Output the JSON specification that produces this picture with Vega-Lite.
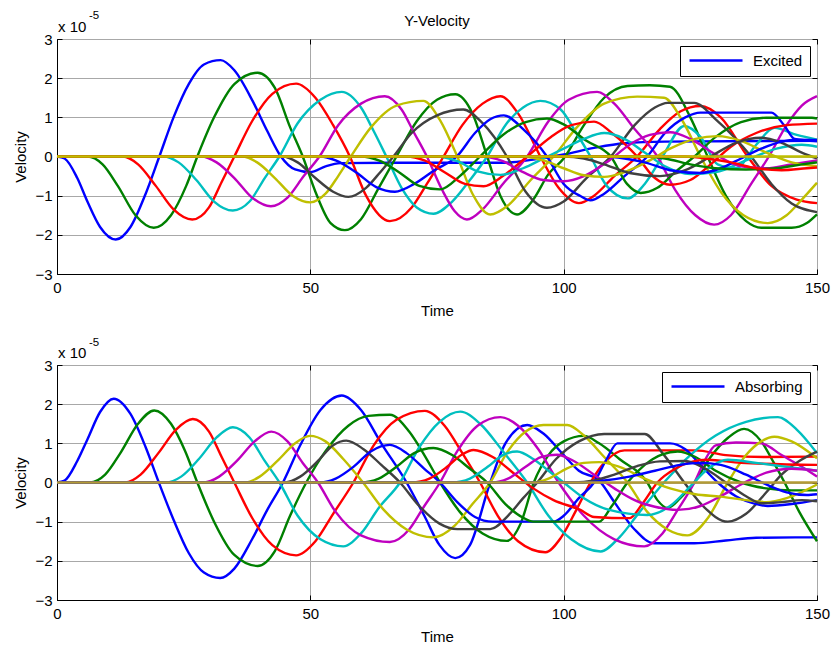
{
"$schema": "https://vega.github.io/schema/vega-lite/v6.json",
"background": "white",
"padding": {"left": 13, "top": 9, "right": 10, "bottom": 5},
"spacing": 17,
"config": {
  "font": "Liberation Sans",
  "view": {"stroke": "black", "strokeWidth": 1},
  "axis": {"domainColor": "black", "tickColor": "black", "tickSize": -5, "gridColor": "#a8a8a8", "gridWidth": 1, "labelFont": "Liberation Sans", "labelFontSize": 15, "labelColor": "black", "labelOverlap": false, "labelFlush": false, "titleFont": "Liberation Sans", "titleFontSize": 15, "titleFontWeight": "normal", "titleColor": "black"},
  "axisX": {"titlePadding": 8, "labelPadding": 11},
  "axisY": {"titlePadding": 6, "labelPadding": 10},
  "legend": {"orient": "top-right", "offset": 7, "padding": 7, "strokeColor": "black", "fillColor": "white", "symbolType": "M-1,0H9.6", "symbolSize": 100, "symbolStrokeWidth": 2.6, "labelFont": "Liberation Sans", "labelFontSize": 15, "labelColor": "black", "labelOffset": 51, "cornerRadius": 0},
  "title": {"font": "Liberation Sans", "fontSize": 15, "fontWeight": "normal", "color": "black", "offset": -19}
},
"resolve": {"scale": {"color": "independent"}},
"datasets": {
"top": [
{"s":"Excited","t":0,"v":0},{"s":"Excited","t":1.5,"v":-0.05},{"s":"Excited","t":4,"v":-0.55},{"s":"Excited","t":6,"v":-1.15},{"s":"Excited","t":8.5,"v":-1.8},{"s":"Excited","t":11.6,"v":-2.12},{"s":"Excited","t":14.5,"v":-1.8},{"s":"Excited","t":17.5,"v":-0.95},{"s":"Excited","t":20.2,"v":0},{"s":"Excited","t":23,"v":1.0},{"s":"Excited","t":26,"v":1.85},{"s":"Excited","t":29,"v":2.35},{"s":"Excited","t":32.3,"v":2.46},{"s":"Excited","t":35,"v":2.2},{"s":"Excited","t":38.6,"v":1.42},{"s":"Excited","t":41.5,"v":0.65},{"s":"Excited","t":44.2,"v":0},{"s":"Excited","t":47,"v":-0.33},{"s":"Excited","t":50,"v":-0.4},{"s":"Excited","t":53,"v":-0.25},{"s":"Excited","t":56,"v":-0.17},{"s":"Excited","t":70,"v":-0.16},{"s":"Excited","t":88,"v":-0.16},{"s":"Excited","t":94,"v":-0.08},{"s":"Excited","t":100,"v":0.05},{"s":"Excited","t":106,"v":0.22},{"s":"Excited","t":112,"v":0.34},{"s":"Excited","t":120,"v":0.38},{"s":"Excited","t":150,"v":0.4},
{"s":"g1","t":0,"v":0},{"s":"g1","t":6,"v":0},{"s":"g1","t":9,"v":-0.2},{"s":"g1","t":12,"v":-0.75},{"s":"g1","t":15.5,"v":-1.5},{"s":"g1","t":19.1,"v":-1.82},{"s":"g1","t":22.5,"v":-1.5},{"s":"g1","t":25.5,"v":-0.75},{"s":"g1","t":27.7,"v":0},{"s":"g1","t":31,"v":1.0},{"s":"g1","t":35,"v":1.85},{"s":"g1","t":39.6,"v":2.14},{"s":"g1","t":43,"v":1.75},{"s":"g1","t":46,"v":0.75},{"s":"g1","t":48.5,"v":0},{"s":"g1","t":51,"v":-0.9},{"s":"g1","t":54,"v":-1.7},{"s":"g1","t":56.8,"v":-1.88},{"s":"g1","t":60,"v":-1.6},{"s":"g1","t":63.5,"v":-0.8},{"s":"g1","t":67,"v":0},{"s":"g1","t":71,"v":0.9},{"s":"g1","t":75,"v":1.45},{"s":"g1","t":78.6,"v":1.59},{"s":"g1","t":82,"v":1.1},{"s":"g1","t":84.9,"v":0},{"s":"g1","t":87.5,"v":-1.0},{"s":"g1","t":90.8,"v":-1.48},{"s":"g1","t":94,"v":-1.1},{"s":"g1","t":97,"v":-0.45},{"s":"g1","t":100,"v":-0.05},{"s":"g1","t":104,"v":0.8},{"s":"g1","t":108,"v":1.5},{"s":"g1","t":112.6,"v":1.8},{"s":"g1","t":117,"v":1.82},{"s":"g1","t":121,"v":1.78},{"s":"g1","t":125,"v":1.0},{"s":"g1","t":128.4,"v":0},{"s":"g1","t":132,"v":-1.0},{"s":"g1","t":136,"v":-1.65},{"s":"g1","t":139,"v":-1.82},{"s":"g1","t":145,"v":-1.82},{"s":"g1","t":148,"v":-1.7},{"s":"g1","t":150,"v":-1.48},
{"s":"r1","t":0,"v":0},{"s":"r1","t":13,"v":0},{"s":"r1","t":16,"v":-0.2},{"s":"r1","t":19.5,"v":-0.75},{"s":"r1","t":23,"v":-1.35},{"s":"r1","t":26.7,"v":-1.61},{"s":"r1","t":30,"v":-1.3},{"s":"r1","t":32.5,"v":-0.65},{"s":"r1","t":35,"v":0},{"s":"r1","t":38.5,"v":0.9},{"s":"r1","t":42.5,"v":1.6},{"s":"r1","t":47.2,"v":1.86},{"s":"r1","t":51,"v":1.5},{"s":"r1","t":54.5,"v":0.8},{"s":"r1","t":57.8,"v":0},{"s":"r1","t":61,"v":-1.0},{"s":"r1","t":65.7,"v":-1.65},{"s":"r1","t":70,"v":-1.3},{"s":"r1","t":73,"v":-0.7},{"s":"r1","t":76.3,"v":0},{"s":"r1","t":80,"v":0.8},{"s":"r1","t":84,"v":1.35},{"s":"r1","t":87.5,"v":1.54},{"s":"r1","t":91,"v":1.1},{"s":"r1","t":95.4,"v":0},{"s":"r1","t":99,"v":-0.8},{"s":"r1","t":103,"v":-1.19},{"s":"r1","t":106,"v":-1.0},{"s":"r1","t":110,"v":-0.5},{"s":"r1","t":114.5,"v":0},{"s":"r1","t":119,"v":0.7},{"s":"r1","t":123,"v":1.15},{"s":"r1","t":127,"v":1.29},{"s":"r1","t":131,"v":1.0},{"s":"r1","t":136.3,"v":0},{"s":"r1","t":141,"v":-0.75},{"s":"r1","t":146,"v":-1.1},{"s":"r1","t":150,"v":-1.19},
{"s":"c1","t":0,"v":0},{"s":"c1","t":21,"v":0},{"s":"c1","t":24,"v":-0.15},{"s":"c1","t":27.5,"v":-0.6},{"s":"c1","t":31,"v":-1.15},{"s":"c1","t":34.7,"v":-1.38},{"s":"c1","t":38,"v":-1.15},{"s":"c1","t":41,"v":-0.55},{"s":"c1","t":43.9,"v":0},{"s":"c1","t":47.5,"v":0.85},{"s":"c1","t":52,"v":1.45},{"s":"c1","t":56.2,"v":1.65},{"s":"c1","t":60,"v":1.25},{"s":"c1","t":62.5,"v":0.65},{"s":"c1","t":65,"v":0},{"s":"c1","t":68,"v":-0.8},{"s":"c1","t":71,"v":-1.3},{"s":"c1","t":74.3,"v":-1.46},{"s":"c1","t":78,"v":-1.15},{"s":"c1","t":81.5,"v":-0.6},{"s":"c1","t":84.9,"v":0},{"s":"c1","t":88.5,"v":0.8},{"s":"c1","t":92,"v":1.25},{"s":"c1","t":95.4,"v":1.42},{"s":"c1","t":99.4,"v":1.2},{"s":"c1","t":102.5,"v":0.6},{"s":"c1","t":105.3,"v":0},{"s":"c1","t":108.5,"v":-0.75},{"s":"c1","t":112.6,"v":-1.07},{"s":"c1","t":116,"v":-0.7},{"s":"c1","t":119.5,"v":0},{"s":"c1","t":123.8,"v":0.78},{"s":"c1","t":127,"v":0.5},{"s":"c1","t":130.4,"v":-0.2},{"s":"c1","t":134,"v":-0.3},{"s":"c1","t":138,"v":0.3},{"s":"c1","t":141.6,"v":0.73},{"s":"c1","t":146,"v":0.55},{"s":"c1","t":150,"v":0.43},
{"s":"m1","t":0,"v":0},{"s":"m1","t":28.5,"v":0},{"s":"m1","t":31.5,"v":-0.15},{"s":"m1","t":35,"v":-0.55},{"s":"m1","t":38.5,"v":-1.05},{"s":"m1","t":42.2,"v":-1.27},{"s":"m1","t":45.5,"v":-1.05},{"s":"m1","t":48.7,"v":-0.5},{"s":"m1","t":51.8,"v":0},{"s":"m1","t":55.5,"v":0.8},{"s":"m1","t":60,"v":1.35},{"s":"m1","t":64.7,"v":1.54},{"s":"m1","t":68,"v":1.2},{"s":"m1","t":70.5,"v":0.6},{"s":"m1","t":73,"v":0},{"s":"m1","t":76,"v":-0.85},{"s":"m1","t":78.5,"v":-1.4},{"s":"m1","t":80.9,"v":-1.61},{"s":"m1","t":84,"v":-1.35},{"s":"m1","t":88,"v":-0.7},{"s":"m1","t":92.8,"v":0},{"s":"m1","t":97,"v":0.9},{"s":"m1","t":101,"v":1.45},{"s":"m1","t":106.6,"v":1.65},{"s":"m1","t":110,"v":1.35},{"s":"m1","t":114,"v":0.7},{"s":"m1","t":118.5,"v":0},{"s":"m1","t":122,"v":-0.85},{"s":"m1","t":126,"v":-1.5},{"s":"m1","t":129.7,"v":-1.74},{"s":"m1","t":133,"v":-1.5},{"s":"m1","t":137,"v":-0.7},{"s":"m1","t":140.5,"v":0},{"s":"m1","t":144,"v":0.8},{"s":"m1","t":147,"v":1.3},{"s":"m1","t":150,"v":1.54},
{"s":"y1","t":0,"v":0},{"s":"y1","t":36.5,"v":0},{"s":"y1","t":39.5,"v":-0.15},{"s":"y1","t":43,"v":-0.55},{"s":"y1","t":46.5,"v":-1.0},{"s":"y1","t":50,"v":-1.17},{"s":"y1","t":53,"v":-0.95},{"s":"y1","t":55.5,"v":-0.5},{"s":"y1","t":58,"v":0},{"s":"y1","t":62,"v":0.75},{"s":"y1","t":67,"v":1.3},{"s":"y1","t":72.3,"v":1.42},{"s":"y1","t":75.5,"v":0.95},{"s":"y1","t":79,"v":0},{"s":"y1","t":82,"v":-0.95},{"s":"y1","t":85.5,"v":-1.48},{"s":"y1","t":89,"v":-1.25},{"s":"y1","t":93.5,"v":-0.6},{"s":"y1","t":98,"v":0},{"s":"y1","t":103,"v":0.8},{"s":"y1","t":108,"v":1.35},{"s":"y1","t":114.5,"v":1.53},{"s":"y1","t":119.8,"v":1.5},{"s":"y1","t":123.5,"v":0.9},{"s":"y1","t":127,"v":0},{"s":"y1","t":131,"v":-0.9},{"s":"y1","t":135.5,"v":-1.5},{"s":"y1","t":140.3,"v":-1.7},{"s":"y1","t":144,"v":-1.5},{"s":"y1","t":147,"v":-1.1},{"s":"y1","t":150,"v":-0.67},
{"s":"k1","t":0,"v":0},{"s":"k1","t":44.5,"v":0},{"s":"k1","t":47.5,"v":-0.15},{"s":"k1","t":51,"v":-0.55},{"s":"k1","t":54.5,"v":-0.9},{"s":"k1","t":57.5,"v":-1.03},{"s":"k1","t":61,"v":-0.8},{"s":"k1","t":63.8,"v":-0.4},{"s":"k1","t":66.4,"v":0},{"s":"k1","t":70,"v":0.6},{"s":"k1","t":75,"v":1.05},{"s":"k1","t":80.2,"v":1.2},{"s":"k1","t":84,"v":0.85},{"s":"k1","t":88.8,"v":0},{"s":"k1","t":92.5,"v":-0.9},{"s":"k1","t":96.7,"v":-1.31},{"s":"k1","t":100,"v":-1.15},{"s":"k1","t":104.5,"v":-0.55},{"s":"k1","t":109.3,"v":0},{"s":"k1","t":114,"v":0.8},{"s":"k1","t":118,"v":1.25},{"s":"k1","t":120.5,"v":1.37},{"s":"k1","t":125.8,"v":1.37},{"s":"k1","t":130,"v":0.95},{"s":"k1","t":137,"v":0},{"s":"k1","t":141,"v":-0.7},{"s":"k1","t":145,"v":-1.2},{"s":"k1","t":150,"v":-1.42},
{"s":"b2","t":0,"v":0},{"s":"b2","t":52,"v":0},{"s":"b2","t":55,"v":-0.1},{"s":"b2","t":59,"v":-0.4},{"s":"b2","t":63,"v":-0.78},{"s":"b2","t":66.7,"v":-0.9},{"s":"b2","t":70.5,"v":-0.7},{"s":"b2","t":74.5,"v":-0.35},{"s":"b2","t":78.9,"v":0},{"s":"b2","t":82.5,"v":0.6},{"s":"b2","t":85.5,"v":0.95},{"s":"b2","t":88.2,"v":1.05},{"s":"b2","t":92,"v":0.7},{"s":"b2","t":96.7,"v":0},{"s":"b2","t":100,"v":-0.7},{"s":"b2","t":103.3,"v":-1.01},{"s":"b2","t":105.3,"v":-1.12},{"s":"b2","t":108,"v":-0.95},{"s":"b2","t":112,"v":-0.5},{"s":"b2","t":116.5,"v":0},{"s":"b2","t":120,"v":0.6},{"s":"b2","t":124,"v":1.0},{"s":"b2","t":127,"v":1.12},{"s":"b2","t":141,"v":1.12},{"s":"b2","t":143.5,"v":0.8},{"s":"b2","t":145.6,"v":0.45},{"s":"b2","t":150,"v":0.39},
{"s":"g2","t":0,"v":0},{"s":"g2","t":60,"v":0},{"s":"g2","t":63.5,"v":-0.1},{"s":"g2","t":67.5,"v":-0.4},{"s":"g2","t":71.5,"v":-0.75},{"s":"g2","t":75.6,"v":-0.84},{"s":"g2","t":79.5,"v":-0.5},{"s":"g2","t":83.5,"v":0},{"s":"g2","t":88,"v":0.55},{"s":"g2","t":92.5,"v":0.88},{"s":"g2","t":96.7,"v":0.97},{"s":"g2","t":100,"v":0.82},{"s":"g2","t":104.5,"v":0.4},{"s":"g2","t":109.3,"v":0},{"s":"g2","t":112.5,"v":-0.7},{"s":"g2","t":115.2,"v":-0.93},{"s":"g2","t":118.5,"v":-0.8},{"s":"g2","t":122,"v":-0.4},{"s":"g2","t":125.8,"v":0},{"s":"g2","t":130,"v":0.5},{"s":"g2","t":135,"v":0.88},{"s":"g2","t":140,"v":0.99},{"s":"g2","t":149,"v":0.99},{"s":"g2","t":150,"v":0.97},
{"s":"r2","t":0,"v":0},{"s":"r2","t":69,"v":0},{"s":"r2","t":72.5,"v":-0.1},{"s":"r2","t":76.5,"v":-0.4},{"s":"r2","t":80.5,"v":-0.7},{"s":"r2","t":84.2,"v":-0.76},{"s":"r2","t":88,"v":-0.5},{"s":"r2","t":92.8,"v":0},{"s":"r2","t":97.5,"v":0.5},{"s":"r2","t":101.5,"v":0.8},{"s":"r2","t":106,"v":0.89},{"s":"r2","t":109.5,"v":0.6},{"s":"r2","t":114.5,"v":0},{"s":"r2","t":118,"v":-0.55},{"s":"r2","t":121,"v":-0.72},{"s":"r2","t":125,"v":-0.6},{"s":"r2","t":129,"v":-0.2},{"s":"r2","t":133,"v":0.25},{"s":"r2","t":138,"v":0.6},{"s":"r2","t":144,"v":0.8},{"s":"r2","t":150,"v":0.84},
{"s":"c2","t":0,"v":0},{"s":"c2","t":75,"v":0},{"s":"c2","t":79,"v":-0.12},{"s":"c2","t":83,"v":-0.38},{"s":"c2","t":87.5,"v":-0.47},{"s":"c2","t":92,"v":-0.3},{"s":"c2","t":96,"v":-0.05},{"s":"c2","t":100,"v":0.2},{"s":"c2","t":104,"v":0.45},{"s":"c2","t":108,"v":0.6},{"s":"c2","t":112,"v":0.45},{"s":"c2","t":116,"v":0.1},{"s":"c2","t":120,"v":-0.25},{"s":"c2","t":125,"v":-0.45},{"s":"c2","t":130,"v":-0.4},{"s":"c2","t":136,"v":-0.1},{"s":"c2","t":142,"v":0.2},{"s":"c2","t":147,"v":0.3},{"s":"c2","t":150,"v":0.25},
{"s":"m2","t":0,"v":0},{"s":"m2","t":84,"v":0},{"s":"m2","t":88,"v":-0.12},{"s":"m2","t":92,"v":-0.4},{"s":"m2","t":96,"v":-0.6},{"s":"m2","t":100,"v":-0.63},{"s":"m2","t":104,"v":-0.5},{"s":"m2","t":109,"v":-0.1},{"s":"m2","t":113,"v":0.3},{"s":"m2","t":117,"v":0.55},{"s":"m2","t":121,"v":0.62},{"s":"m2","t":125,"v":0.45},{"s":"m2","t":130,"v":0.05},{"s":"m2","t":135,"v":-0.25},{"s":"m2","t":140,"v":-0.3},{"s":"m2","t":145,"v":-0.2},{"s":"m2","t":150,"v":-0.1},
{"s":"y2","t":0,"v":0},{"s":"y2","t":92,"v":0},{"s":"y2","t":96,"v":-0.1},{"s":"y2","t":100,"v":-0.3},{"s":"y2","t":104,"v":-0.48},{"s":"y2","t":108,"v":-0.52},{"s":"y2","t":112,"v":-0.4},{"s":"y2","t":117,"v":-0.1},{"s":"y2","t":121,"v":0.2},{"s":"y2","t":126,"v":0.45},{"s":"y2","t":130.4,"v":0.52},{"s":"y2","t":135,"v":0.4},{"s":"y2","t":140,"v":0.1},{"s":"y2","t":145,"v":-0.15},{"s":"y2","t":150,"v":-0.25},
{"s":"k2","t":0,"v":0},{"s":"k2","t":100,"v":0},{"s":"k2","t":104,"v":-0.05},{"s":"k2","t":108,"v":-0.2},{"s":"k2","t":113,"v":-0.42},{"s":"k2","t":119,"v":-0.5},{"s":"k2","t":124,"v":-0.35},{"s":"k2","t":129,"v":0},{"s":"k2","t":134,"v":0.35},{"s":"k2","t":139,"v":0.48},{"s":"k2","t":143,"v":0.35},{"s":"k2","t":147,"v":0.1},{"s":"k2","t":150,"v":-0.05},
{"s":"b3","t":0,"v":0},{"s":"b3","t":108,"v":0},{"s":"b3","t":112,"v":-0.05},{"s":"b3","t":116,"v":-0.15},{"s":"b3","t":121,"v":-0.35},{"s":"b3","t":127,"v":-0.42},{"s":"b3","t":131,"v":-0.3},{"s":"b3","t":135,"v":-0.05},{"s":"b3","t":139,"v":0.2},{"s":"b3","t":143,"v":0.38},{"s":"b3","t":146,"v":0.43},{"s":"b3","t":150,"v":0.42},
{"s":"g3","t":0,"v":0},{"s":"g3","t":116,"v":0},{"s":"g3","t":120,"v":-0.05},{"s":"g3","t":125,"v":-0.2},{"s":"g3","t":130,"v":-0.3},{"s":"g3","t":136,"v":-0.33},{"s":"g3","t":142,"v":-0.3},{"s":"g3","t":147,"v":-0.2},{"s":"g3","t":150,"v":-0.15},
{"s":"r3","t":0,"v":0},{"s":"r3","t":124,"v":0},{"s":"r3","t":128,"v":-0.05},{"s":"r3","t":133,"v":-0.15},{"s":"r3","t":138,"v":-0.3},{"s":"r3","t":143,"v":-0.35},{"s":"r3","t":148,"v":-0.3},{"s":"r3","t":150,"v":-0.28}
],
"bot": [
{"s":"Absorbing","t":0,"v":0},{"s":"Absorbing","t":1.5,"v":0.05},{"s":"Absorbing","t":4,"v":0.55},{"s":"Absorbing","t":6,"v":1.1},{"s":"Absorbing","t":8.5,"v":1.8},{"s":"Absorbing","t":11.2,"v":2.14},{"s":"Absorbing","t":14.5,"v":1.75},{"s":"Absorbing","t":17.5,"v":0.9},{"s":"Absorbing","t":20.1,"v":0},{"s":"Absorbing","t":23,"v":-0.95},{"s":"Absorbing","t":26,"v":-1.8},{"s":"Absorbing","t":29,"v":-2.3},{"s":"Absorbing","t":32.2,"v":-2.44},{"s":"Absorbing","t":35,"v":-2.2},{"s":"Absorbing","t":38.5,"v":-1.45},{"s":"Absorbing","t":41.5,"v":-0.7},{"s":"Absorbing","t":44.6,"v":0},{"s":"Absorbing","t":48,"v":0.95},{"s":"Absorbing","t":52,"v":1.85},{"s":"Absorbing","t":56.2,"v":2.22},{"s":"Absorbing","t":60,"v":1.85},{"s":"Absorbing","t":64,"v":1.0},{"s":"Absorbing","t":69,"v":0},{"s":"Absorbing","t":72.5,"v":-0.85},{"s":"Absorbing","t":75.5,"v":-1.6},{"s":"Absorbing","t":78.6,"v":-1.93},{"s":"Absorbing","t":81.5,"v":-1.6},{"s":"Absorbing","t":85.5,"v":0},{"s":"Absorbing","t":88.5,"v":1.0},{"s":"Absorbing","t":92.8,"v":1.47},{"s":"Absorbing","t":96,"v":1.25},{"s":"Absorbing","t":100,"v":0.7},{"s":"Absorbing","t":103,"v":0.3},{"s":"Absorbing","t":107,"v":0.05},{"s":"Absorbing","t":110,"v":-0.5},{"s":"Absorbing","t":114,"v":-1.2},{"s":"Absorbing","t":117.8,"v":-1.55},{"s":"Absorbing","t":125.8,"v":-1.55},{"s":"Absorbing","t":132,"v":-1.48},{"s":"Absorbing","t":138,"v":-1.41},{"s":"Absorbing","t":150,"v":-1.4},
{"s":"g1","t":0,"v":0},{"s":"g1","t":6.5,"v":0},{"s":"g1","t":9.5,"v":0.2},{"s":"g1","t":12.5,"v":0.75},{"s":"g1","t":16,"v":1.5},{"s":"g1","t":19.2,"v":1.84},{"s":"g1","t":22.5,"v":1.5},{"s":"g1","t":25.3,"v":0.8},{"s":"g1","t":27.7,"v":0},{"s":"g1","t":31,"v":-1.0},{"s":"g1","t":35,"v":-1.85},{"s":"g1","t":39.6,"v":-2.13},{"s":"g1","t":43,"v":-1.75},{"s":"g1","t":46,"v":-0.85},{"s":"g1","t":49.2,"v":0},{"s":"g1","t":53,"v":0.8},{"s":"g1","t":57.5,"v":1.45},{"s":"g1","t":61.5,"v":1.7},{"s":"g1","t":65.7,"v":1.73},{"s":"g1","t":69.5,"v":1.3},{"s":"g1","t":72.5,"v":0.7},{"s":"g1","t":75.6,"v":0},{"s":"g1","t":79.5,"v":-0.75},{"s":"g1","t":84,"v":-1.3},{"s":"g1","t":88.8,"v":-1.49},{"s":"g1","t":91.5,"v":-1.05},{"s":"g1","t":94.1,"v":0},{"s":"g1","t":97,"v":0.7},{"s":"g1","t":100,"v":1.05},{"s":"g1","t":104,"v":1.19},{"s":"g1","t":107,"v":1.0},{"s":"g1","t":111,"v":0.6},{"s":"g1","t":116.5,"v":0},{"s":"g1","t":118.5,"v":-0.45},{"s":"g1","t":120.5,"v":-0.65},{"s":"g1","t":123,"v":-0.4},{"s":"g1","t":125.8,"v":0},{"s":"g1","t":129,"v":0.65},{"s":"g1","t":132.5,"v":1.15},{"s":"g1","t":135.6,"v":1.37},{"s":"g1","t":139,"v":1.05},{"s":"g1","t":141.5,"v":0.5},{"s":"g1","t":143.6,"v":0},{"s":"g1","t":146.5,"v":-0.75},{"s":"g1","t":150,"v":-1.5},
{"s":"r1","t":0,"v":0},{"s":"r1","t":13.5,"v":0},{"s":"r1","t":16.5,"v":0.2},{"s":"r1","t":20,"v":0.75},{"s":"r1","t":23.5,"v":1.35},{"s":"r1","t":26.8,"v":1.62},{"s":"r1","t":30,"v":1.3},{"s":"r1","t":32.5,"v":0.65},{"s":"r1","t":35,"v":0},{"s":"r1","t":38.5,"v":-0.9},{"s":"r1","t":42.5,"v":-1.6},{"s":"r1","t":47.2,"v":-1.86},{"s":"r1","t":51,"v":-1.5},{"s":"r1","t":54.5,"v":-0.8},{"s":"r1","t":58.5,"v":0},{"s":"r1","t":62.5,"v":0.95},{"s":"r1","t":67,"v":1.6},{"s":"r1","t":72.6,"v":1.83},{"s":"r1","t":76.5,"v":1.45},{"s":"r1","t":80,"v":0.75},{"s":"r1","t":83.5,"v":0},{"s":"r1","t":87,"v":-0.85},{"s":"r1","t":91,"v":-1.5},{"s":"r1","t":96.4,"v":-1.78},{"s":"r1","t":99.5,"v":-1.4},{"s":"r1","t":102.5,"v":-0.7},{"s":"r1","t":105.3,"v":0},{"s":"r1","t":108,"v":0.5},{"s":"r1","t":112,"v":0.82},{"s":"r1","t":126,"v":0.82},{"s":"r1","t":132,"v":0.7},{"s":"r1","t":140,"v":0.65},{"s":"r1","t":150,"v":0.66},
{"s":"c1","t":0,"v":0},{"s":"c1","t":21.5,"v":0},{"s":"c1","t":24.5,"v":0.15},{"s":"c1","t":28,"v":0.6},{"s":"c1","t":31.5,"v":1.15},{"s":"c1","t":34.7,"v":1.41},{"s":"c1","t":38,"v":1.15},{"s":"c1","t":41,"v":0.55},{"s":"c1","t":43.9,"v":0},{"s":"c1","t":47.5,"v":-0.85},{"s":"c1","t":52,"v":-1.45},{"s":"c1","t":56.5,"v":-1.63},{"s":"c1","t":60,"v":-1.3},{"s":"c1","t":63.5,"v":-0.65},{"s":"c1","t":67.7,"v":0},{"s":"c1","t":71.5,"v":0.9},{"s":"c1","t":75.5,"v":1.55},{"s":"c1","t":79.6,"v":1.81},{"s":"c1","t":83.5,"v":1.5},{"s":"c1","t":88,"v":0.8},{"s":"c1","t":92.8,"v":0},{"s":"c1","t":97,"v":-0.85},{"s":"c1","t":101.5,"v":-1.45},{"s":"c1","t":107.3,"v":-1.76},{"s":"c1","t":111,"v":-1.4},{"s":"c1","t":115,"v":-0.75},{"s":"c1","t":119.8,"v":0},{"s":"c1","t":125,"v":0.7},{"s":"c1","t":130,"v":1.2},{"s":"c1","t":136,"v":1.55},{"s":"c1","t":142.3,"v":1.67},{"s":"c1","t":146,"v":1.35},{"s":"c1","t":150,"v":0.75},
{"s":"m1","t":0,"v":0},{"s":"m1","t":29,"v":0},{"s":"m1","t":32,"v":0.15},{"s":"m1","t":35.5,"v":0.55},{"s":"m1","t":39,"v":1.05},{"s":"m1","t":42.3,"v":1.3},{"s":"m1","t":45.5,"v":1.05},{"s":"m1","t":48.5,"v":0.5},{"s":"m1","t":51.5,"v":0},{"s":"m1","t":55,"v":-0.75},{"s":"m1","t":60,"v":-1.35},{"s":"m1","t":65.7,"v":-1.52},{"s":"m1","t":69.5,"v":-1.2},{"s":"m1","t":72.5,"v":-0.6},{"s":"m1","t":75.6,"v":0},{"s":"m1","t":79,"v":0.8},{"s":"m1","t":83,"v":1.45},{"s":"m1","t":87.5,"v":1.67},{"s":"m1","t":91,"v":1.45},{"s":"m1","t":95,"v":0.85},{"s":"m1","t":99,"v":0},{"s":"m1","t":104,"v":-0.85},{"s":"m1","t":110,"v":-1.45},{"s":"m1","t":115.9,"v":-1.63},{"s":"m1","t":119.5,"v":-1.3},{"s":"m1","t":122.5,"v":-0.7},{"s":"m1","t":125.8,"v":0},{"s":"m1","t":128,"v":0.6},{"s":"m1","t":130,"v":0.95},{"s":"m1","t":134,"v":1.02},{"s":"m1","t":139,"v":1.0},{"s":"m1","t":143,"v":0.7},{"s":"m1","t":147,"v":0.4},{"s":"m1","t":150,"v":0.15},
{"s":"y1","t":0,"v":0},{"s":"y1","t":37,"v":0},{"s":"y1","t":40,"v":0.15},{"s":"y1","t":43.5,"v":0.55},{"s":"y1","t":47,"v":1.0},{"s":"y1","t":49.9,"v":1.19},{"s":"y1","t":53,"v":1.05},{"s":"y1","t":56.5,"v":0.6},{"s":"y1","t":60.4,"v":0},{"s":"y1","t":64.5,"v":-0.7},{"s":"y1","t":69,"v":-1.2},{"s":"y1","t":74.3,"v":-1.4},{"s":"y1","t":78.5,"v":-1.1},{"s":"y1","t":82,"v":-0.55},{"s":"y1","t":85.5,"v":0},{"s":"y1","t":89,"v":0.8},{"s":"y1","t":92.5,"v":1.3},{"s":"y1","t":96,"v":1.47},{"s":"y1","t":100.7,"v":1.47},{"s":"y1","t":104,"v":1.2},{"s":"y1","t":108,"v":0.65},{"s":"y1","t":112.6,"v":0},{"s":"y1","t":116.5,"v":-0.75},{"s":"y1","t":120.5,"v":-1.2},{"s":"y1","t":124.4,"v":-1.35},{"s":"y1","t":128.5,"v":-0.9},{"s":"y1","t":132.4,"v":0},{"s":"y1","t":136,"v":0.7},{"s":"y1","t":139,"v":1.05},{"s":"y1","t":141.6,"v":1.17},{"s":"y1","t":145,"v":1.05},{"s":"y1","t":150,"v":0.62},
{"s":"k1","t":0,"v":0},{"s":"k1","t":45,"v":0},{"s":"k1","t":48,"v":0.15},{"s":"k1","t":51.5,"v":0.55},{"s":"k1","t":54.5,"v":0.95},{"s":"k1","t":57.1,"v":1.07},{"s":"k1","t":60.5,"v":0.85},{"s":"k1","t":64,"v":0.45},{"s":"k1","t":67.7,"v":0},{"s":"k1","t":71.5,"v":-0.6},{"s":"k1","t":75.5,"v":-1.05},{"s":"k1","t":79,"v":-1.19},{"s":"k1","t":85.5,"v":-1.19},{"s":"k1","t":89,"v":-0.85},{"s":"k1","t":92,"v":-0.4},{"s":"k1","t":94.8,"v":0},{"s":"k1","t":98.5,"v":0.6},{"s":"k1","t":103,"v":1.05},{"s":"k1","t":108,"v":1.24},{"s":"k1","t":116,"v":1.24},{"s":"k1","t":119.5,"v":0.75},{"s":"k1","t":123.8,"v":0},{"s":"k1","t":127.5,"v":-0.6},{"s":"k1","t":132.4,"v":-1.0},{"s":"k1","t":136,"v":-0.8},{"s":"k1","t":140,"v":-0.25},{"s":"k1","t":143,"v":0.2},{"s":"k1","t":146.5,"v":0.55},{"s":"k1","t":150,"v":0.79},
{"s":"b2","t":0,"v":0},{"s":"b2","t":52,"v":0},{"s":"b2","t":55,"v":0.1},{"s":"b2","t":58.5,"v":0.4},{"s":"b2","t":62,"v":0.8},{"s":"b2","t":65.7,"v":0.96},{"s":"b2","t":69,"v":0.75},{"s":"b2","t":72.5,"v":0.35},{"s":"b2","t":75.6,"v":0},{"s":"b2","t":79,"v":-0.5},{"s":"b2","t":82.5,"v":-0.88},{"s":"b2","t":86,"v":-1.0},{"s":"b2","t":98,"v":-1.0},{"s":"b2","t":100,"v":-0.85},{"s":"b2","t":103,"v":-0.4},{"s":"b2","t":106,"v":0},{"s":"b2","t":108.5,"v":0.6},{"s":"b2","t":110.6,"v":1.0},{"s":"b2","t":121,"v":1.0},{"s":"b2","t":124,"v":0.85},{"s":"b2","t":127,"v":0.45},{"s":"b2","t":130.4,"v":0},{"s":"b2","t":134,"v":-0.35},{"s":"b2","t":138,"v":-0.55},{"s":"b2","t":140.3,"v":-0.6},{"s":"b2","t":145,"v":-0.55},{"s":"b2","t":150,"v":-0.45},
{"s":"g2","t":0,"v":0},{"s":"g2","t":60,"v":0},{"s":"g2","t":63.5,"v":0.1},{"s":"g2","t":67,"v":0.4},{"s":"g2","t":70.5,"v":0.75},{"s":"g2","t":74.3,"v":0.88},{"s":"g2","t":78,"v":0.7},{"s":"g2","t":81.5,"v":0.35},{"s":"g2","t":84.9,"v":0},{"s":"g2","t":88.5,"v":-0.55},{"s":"g2","t":92,"v":-0.9},{"s":"g2","t":94,"v":-1.0},{"s":"g2","t":107,"v":-1.0},{"s":"g2","t":109.5,"v":-0.6},{"s":"g2","t":112.6,"v":0},{"s":"g2","t":116,"v":0.45},{"s":"g2","t":119.5,"v":0.72},{"s":"g2","t":122.5,"v":0.79},{"s":"g2","t":126,"v":0.65},{"s":"g2","t":130,"v":0.3},{"s":"g2","t":135,"v":0.0},{"s":"g2","t":140,"v":-0.15},{"s":"g2","t":145,"v":-0.2},{"s":"g2","t":150,"v":-0.2},
{"s":"r2","t":0,"v":0},{"s":"r2","t":70,"v":0},{"s":"r2","t":73.5,"v":0.1},{"s":"r2","t":77,"v":0.4},{"s":"r2","t":80,"v":0.72},{"s":"r2","t":82.2,"v":0.83},{"s":"r2","t":86,"v":0.65},{"s":"r2","t":90,"v":0.25},{"s":"r2","t":94,"v":-0.15},{"s":"r2","t":98,"v":-0.45},{"s":"r2","t":103.3,"v":-0.7},{"s":"r2","t":106,"v":-0.88},{"s":"r2","t":113,"v":-0.91},{"s":"r2","t":115.5,"v":-0.55},{"s":"r2","t":118.5,"v":0},{"s":"r2","t":122,"v":0.35},{"s":"r2","t":125,"v":0.52},{"s":"r2","t":128.4,"v":0.58},{"s":"r2","t":135,"v":0.5},{"s":"r2","t":150,"v":0.45},
{"s":"c2","t":0,"v":0},{"s":"c2","t":78,"v":0},{"s":"c2","t":81.5,"v":0.1},{"s":"c2","t":85,"v":0.4},{"s":"c2","t":88,"v":0.7},{"s":"c2","t":90.8,"v":0.79},{"s":"c2","t":94,"v":0.6},{"s":"c2","t":97,"v":0.3},{"s":"c2","t":100,"v":0},{"s":"c2","t":104,"v":-0.4},{"s":"c2","t":109,"v":-0.7},{"s":"c2","t":116.5,"v":-0.83},{"s":"c2","t":121,"v":-0.6},{"s":"c2","t":125,"v":-0.1},{"s":"c2","t":128.5,"v":0.35},{"s":"c2","t":132.4,"v":0.58},{"s":"c2","t":138,"v":0.5},{"s":"c2","t":144,"v":0.4},{"s":"c2","t":150,"v":0.3},
{"s":"m2","t":0,"v":0},{"s":"m2","t":86,"v":0},{"s":"m2","t":89,"v":0.1},{"s":"m2","t":92.5,"v":0.4},{"s":"m2","t":95.5,"v":0.65},{"s":"m2","t":98.7,"v":0.71},{"s":"m2","t":102,"v":0.55},{"s":"m2","t":106,"v":0.2},{"s":"m2","t":110,"v":-0.15},{"s":"m2","t":114,"v":-0.45},{"s":"m2","t":118,"v":-0.62},{"s":"m2","t":122.5,"v":-0.7},{"s":"m2","t":127,"v":-0.6},{"s":"m2","t":131,"v":-0.35},{"s":"m2","t":135,"v":-0.05},{"s":"m2","t":140,"v":0.25},{"s":"m2","t":145,"v":0.35},{"s":"m2","t":150,"v":0.3},
{"s":"y2","t":0,"v":0},{"s":"y2","t":94,"v":0},{"s":"y2","t":97,"v":0.1},{"s":"y2","t":100.5,"v":0.35},{"s":"y2","t":104,"v":0.5},{"s":"y2","t":107,"v":0.52},{"s":"y2","t":111,"v":0.4},{"s":"y2","t":116,"v":0.1},{"s":"y2","t":121,"v":-0.15},{"s":"y2","t":126,"v":-0.3},{"s":"y2","t":131,"v":-0.36},{"s":"y2","t":136,"v":-0.45},{"s":"y2","t":140,"v":-0.5},{"s":"y2","t":144,"v":-0.4},{"s":"y2","t":150,"v":-0.05},
{"s":"k2","t":0,"v":0},{"s":"k2","t":102,"v":0},{"s":"k2","t":106,"v":0.05},{"s":"k2","t":110,"v":0.2},{"s":"k2","t":114.5,"v":0.42},{"s":"k2","t":119,"v":0.54},{"s":"k2","t":124,"v":0.55},{"s":"k2","t":128,"v":0.35},{"s":"k2","t":132,"v":0.0},{"s":"k2","t":136,"v":-0.35},{"s":"k2","t":139,"v":-0.53},{"s":"k2","t":143,"v":-0.5},{"s":"k2","t":147,"v":-0.45},{"s":"k2","t":150,"v":-0.48},
{"s":"b3","t":0,"v":0},{"s":"b3","t":104,"v":0},{"s":"b3","t":108,"v":0.05},{"s":"b3","t":113,"v":0.15},{"s":"b3","t":118,"v":0.3},{"s":"b3","t":123,"v":0.45},{"s":"b3","t":127,"v":0.5},{"s":"b3","t":131,"v":0.45},{"s":"b3","t":136,"v":0.2},{"s":"b3","t":140,"v":-0.05},{"s":"b3","t":144,"v":-0.25},{"s":"b3","t":148,"v":-0.32},{"s":"b3","t":150,"v":-0.3}
]
},
"vconcat": [
{
 "width": 760, "height": 235,
 "title": {"text": "Y-Velocity"},
 "resolve": {"axis": {"x": "independent", "y": "independent"}},
 "layer": [
  {"data": {"name": "top"},
   "mark": {"type": "line", "interpolate": "monotone", "strokeWidth": 2.4},
   "encoding": {
    "x": {"field": "t", "type": "quantitative", "scale": {"domain": [0, 150], "nice": false}, "axis": {"values": [0, 50, 100, 150], "title": "Time", "labelOverlap": false}},
    "y": {"field": "v", "type": "quantitative", "scale": {"domain": [-3, 3], "nice": false}, "axis": {"values": [-3, -2, -1, 0, 1, 2, 3], "title": "Velocity", "labelOverlap": false}},
    "color": {"field": "s", "type": "nominal",
      "scale": {"domain": ["Excited","g1","r1","c1","m1","y1","k1","b2","g2","r2","c2","m2","y2","k2","b3","g3","r3"],
                "range": ["#0000ff","#008000","#ff0000","#00bfbf","#bf00bf","#bfbf00","#404040","#0000ff","#008000","#ff0000","#00bfbf","#bf00bf","#bfbf00","#404040","#0000ff","#008000","#ff0000"]},
      "legend": {"values": ["Excited"], "title": null}}
   }},
  {"data": {"values": [{}]}, "mark": {"type": "point", "opacity": 0},
   "encoding": {
    "x": {"datum": 0, "type": "quantitative", "axis": {"orient": "top", "values": [0, 50, 100, 150], "labels": false, "title": null, "grid": false, "domain": false}},
    "y": {"datum": 0, "type": "quantitative", "axis": {"orient": "right", "values": [-3, -2, -1, 0, 1, 2, 3], "labels": false, "title": null, "grid": false, "domain": false}}}},
  {"data": {"values": [{}]}, "mark": {"type": "rule", "color": "#bfbf00", "strokeWidth": 2.4}, "encoding": {"y": {"datum": 0, "type": "quantitative", "axis": null}}},
  {"data": {"values": [{}]}, "mark": {"type": "text", "text": "x 10", "align": "left", "baseline": "alphabetic", "dx": 1, "dy": -7, "fontSize": 15, "font": "Liberation Sans", "color": "black"}, "encoding": {"x": {"datum": 0, "type": "quantitative", "axis": null}, "y": {"datum": 3, "type": "quantitative", "axis": null}}},
  {"data": {"values": [{}]}, "mark": {"type": "text", "text": "-5", "align": "left", "baseline": "alphabetic", "dx": 32, "dy": -20, "fontSize": 11.5, "font": "Liberation Sans", "color": "black"}, "encoding": {"x": {"datum": 0, "type": "quantitative", "axis": null}, "y": {"datum": 3, "type": "quantitative", "axis": null}}}
 ]
},
{
 "width": 760, "height": 235,
 "resolve": {"axis": {"x": "independent", "y": "independent"}},
 "layer": [
  {"data": {"name": "bot"},
   "mark": {"type": "line", "interpolate": "monotone", "strokeWidth": 2.4},
   "encoding": {
    "x": {"field": "t", "type": "quantitative", "scale": {"domain": [0, 150], "nice": false}, "axis": {"values": [0, 50, 100, 150], "title": "Time", "labelOverlap": false}},
    "y": {"field": "v", "type": "quantitative", "scale": {"domain": [-3, 3], "nice": false}, "axis": {"values": [-3, -2, -1, 0, 1, 2, 3], "title": "Velocity", "labelOverlap": false}},
    "color": {"field": "s", "type": "nominal",
      "scale": {"domain": ["Absorbing","g1","r1","c1","m1","y1","k1","b2","g2","r2","c2","m2","y2","k2","b3"],
                "range": ["#0000ff","#008000","#ff0000","#00bfbf","#bf00bf","#bfbf00","#404040","#0000ff","#008000","#ff0000","#00bfbf","#bf00bf","#bfbf00","#404040","#0000ff"]},
      "legend": {"values": ["Absorbing"], "title": null}}
   }},
  {"data": {"values": [{}]}, "mark": {"type": "point", "opacity": 0},
   "encoding": {
    "x": {"datum": 0, "type": "quantitative", "axis": {"orient": "top", "values": [0, 50, 100, 150], "labels": false, "title": null, "grid": false, "domain": false}},
    "y": {"datum": 0, "type": "quantitative", "axis": {"orient": "right", "values": [-3, -2, -1, 0, 1, 2, 3], "labels": false, "title": null, "grid": false, "domain": false}}}},
  {"data": {"values": [{}]}, "mark": {"type": "rule", "color": "#b39b35", "strokeWidth": 2.6}, "encoding": {"y": {"datum": 0, "type": "quantitative", "axis": null}}},
  {"data": {"values": [{}]}, "mark": {"type": "text", "text": "x 10", "align": "left", "baseline": "alphabetic", "dx": 1, "dy": -7, "fontSize": 15, "font": "Liberation Sans", "color": "black"}, "encoding": {"x": {"datum": 0, "type": "quantitative", "axis": null}, "y": {"datum": 3, "type": "quantitative", "axis": null}}},
  {"data": {"values": [{}]}, "mark": {"type": "text", "text": "-5", "align": "left", "baseline": "alphabetic", "dx": 32, "dy": -19, "fontSize": 11.5, "font": "Liberation Sans", "color": "black"}, "encoding": {"x": {"datum": 0, "type": "quantitative", "axis": null}, "y": {"datum": 3, "type": "quantitative", "axis": null}}}
 ]
}
]
}
